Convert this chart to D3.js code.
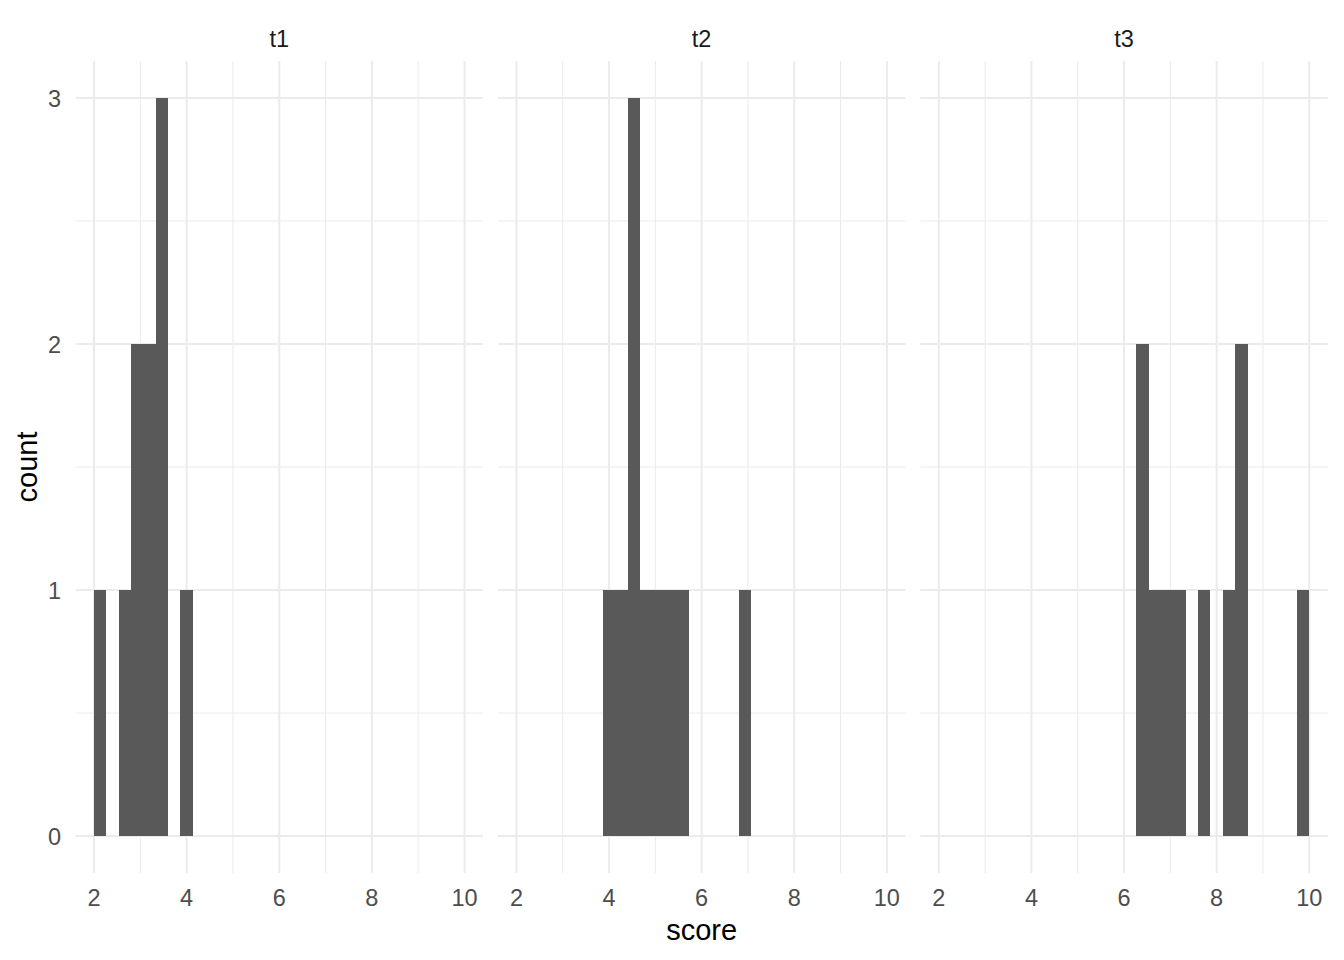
<!DOCTYPE html>
<html>
<head>
<meta charset="utf-8">
<script src="https://cdn.jsdelivr.net/npm/d3@7"></script>
<style>
  html, body { margin: 0; padding: 0; background: #fff; }
  svg { display: block; font-family: "Liberation Sans", Arial, sans-serif; }
</style>
</head>
<body>
<svg id="chart" width="1344" height="960"></svg>
<script>
// ---- data ----
const facets = ["t1", "t2", "t3"];
const binStart = 2;
const binEnd = 10;
const binCount = 30;
// counts per histogram bin (30 bins from 2 to 10)
const countsT1 = [1,0,1,2,2,3,0,1,0,0, 0,0,0,0,0,0,0,0,0,0, 0,0,0,0,0,0,0,0,0,0];
const countsT2 = [0,0,0,0,0,0,0,1,1,3, 1,1,1,1,0,0,0,0,1,0, 0,0,0,0,0,0,0,0,0,0];
const countsT3 = [0,0,0,0,0,0,0,0,0,0, 0,0,0,0,0,0,2,1,1,1, 0,1,0,1,2,0,0,0,0,1];
const facetCounts = [countsT1, countsT2, countsT3];
const xTicks = [2, 4, 6, 8, 10];
const xMinor = [3, 5, 7, 9];
const yTicks = [0, 1, 2, 3];
const yMinor = [0.5, 1.5, 2.5];
const xTitle = "score";
const yTitle = "count";

// ---- layout ----
const svg = d3.select("#chart");
const panelTop = 61, panelBottom = 873;
const panelLeft0 = 75.5, panelWidth = 407.5, panelStep = 422.4;
const gridColor = "#EBEBEB";
const barColor = "#595959";

const y = d3.scaleLinear().domain([-0.15, 3.15]).range([panelBottom, panelTop]);
const binW = (binEnd - binStart) / binCount;

facets.forEach((name, i) => {
  const left = panelLeft0 + i * panelStep;
  const x = d3.scaleLinear().domain([1.6, 10.4]).range([left, left + panelWidth]);
  const g = svg.append("g");

  // minor grid
  g.selectAll(".xminor").data(xMinor).join("line")
    .attr("x1", d => x(d)).attr("x2", d => x(d))
    .attr("y1", panelTop).attr("y2", panelBottom)
    .attr("stroke", gridColor).attr("stroke-width", 1);
  g.selectAll(".yminor").data(yMinor).join("line")
    .attr("x1", left).attr("x2", left + panelWidth)
    .attr("y1", d => y(d)).attr("y2", d => y(d))
    .attr("stroke", gridColor).attr("stroke-width", 1);
  // major grid
  g.selectAll(".xmajor").data(xTicks).join("line")
    .attr("x1", d => x(d)).attr("x2", d => x(d))
    .attr("y1", panelTop).attr("y2", panelBottom)
    .attr("stroke", gridColor).attr("stroke-width", 2);
  g.selectAll(".ymajor").data(yTicks).join("line")
    .attr("x1", left).attr("x2", left + panelWidth)
    .attr("y1", d => y(d)).attr("y2", d => y(d))
    .attr("stroke", gridColor).attr("stroke-width", 2);

  // bars
  const bins = facetCounts[i].map((c, k) => ({x0: binStart + k * binW, x1: binStart + (k + 1) * binW, count: c}))
    .filter(b => b.count > 0);
  g.selectAll(".bar").data(bins).join("rect")
    .attr("x", d => Math.round(x(d.x0)))
    .attr("width", d => Math.round(x(d.x1)) - Math.round(x(d.x0)))
    .attr("y", d => Math.round(y(d.count)))
    .attr("height", d => Math.round(y(0)) - Math.round(y(d.count)))
    .attr("fill", barColor)
    .attr("shape-rendering", "crispEdges");

  // strip label
  g.append("text")
    .attr("x", x(6)).attr("y", 47)
    .attr("text-anchor", "middle")
    .attr("font-size", 23.5)
    .attr("fill", "#1A1A1A")
    .text(name);

  // x tick labels
  g.selectAll(".xlab").data(xTicks).join("text")
    .attr("x", d => x(d)).attr("y", 906)
    .attr("text-anchor", "middle")
    .attr("font-size", 23.5)
    .attr("fill", "#4D4D4D")
    .text(d => d);
});

// y tick labels
svg.selectAll(".ylab").data(yTicks).join("text")
  .attr("x", 61).attr("y", d => y(d)).attr("dy", "0.38em")
  .attr("text-anchor", "end")
  .attr("font-size", 23.5)
  .attr("fill", "#4D4D4D")
  .text(d => d);

// axis titles
svg.append("text")
  .attr("x", panelLeft0 + panelStep + panelWidth / 2).attr("y", 940)
  .attr("text-anchor", "middle")
  .attr("font-size", 29)
  .attr("fill", "#000")
  .text(xTitle);

svg.append("text")
  .attr("transform", `translate(37,${(panelTop + panelBottom) / 2}) rotate(-90)`)
  .attr("text-anchor", "middle")
  .attr("font-size", 29)
  .attr("fill", "#000")
  .text(yTitle);
</script>
</body>
</html>
